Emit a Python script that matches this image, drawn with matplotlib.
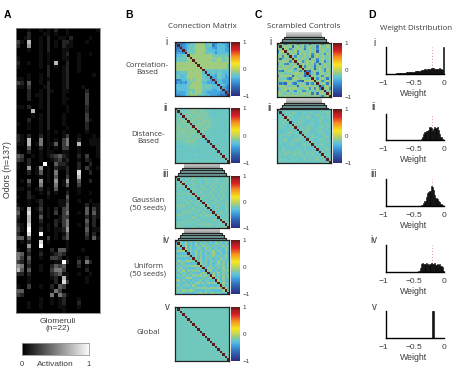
#! /usr/bin/python3
import numpy as np
import matplotlib
matplotlib.use("Agg")
import matplotlib.pyplot as plt
from matplotlib.colors import LinearSegmentedColormap, PowerNorm
from matplotlib.patches import Rectangle

kWidth = 454
kHeight = 373
kTextColor = "#3c3c3c"

# activation per odor (rows) and glomerulus (columns), in ninths
activation_rows = [
  "0001001010200100000001", "0002000110100100000000", "0012001020011020000100",
  "3107001020102210001000", "2006001020102110000000", "0001001020001100000000",
  "0000001010001200100100", "1000001010001100100000", "2001001010700200100000",
  "1000001020101200100000", "0000000020001200100000", "0001001020001200000010",
  "1101001010001200000000", "3204001020001200000000", "1103000120001200010000",
  "0002001021001100002000", "0002011020001000003000", "0002001020001100003000",
  "0000001020001000003000", "1102001020000100002000", "0000700020000100002000",
  "0000101020001000003000", "0002001020001000003100", "1001001020001000002000",
  "0001001020000100002000", "0000001010101000001000", "2102002010001300100010",
  "2107005010103500200111", "1107015011403500700111", "0004002010103300100001",
  "1002001011001100100001", "4300101012342100203001", "3202001001231200102100",
  "1002000900422100200200", "1006016010211200203101", "0002014010500200800200",
  "0000001010400300700000", "0104006010601600400200", "0002005000501400300000",
  "1101012010400100100000", "0002001020100200100100", "1002100010000400000000",
  "0001012000011300100100", "1001002000011400002011", "3107013010203400004031",
  "4008002010303500104041", "2007004010013300002021", "1007002000213500004020",
  "2108001010203500103020", "3109002010112600004011", "2008009000101400003020",
  "4404001030102400002041", "0102008010000100000000", "0006009000000100000000",
  "1003001002044100010000", "5402002001232000000000", "5304001003320100102000",
  "3203000000119200305200", "6502001002434000201000", "7404001003553000002000",
  "2202000002341100100100", "0001000001207100001000", "0001000000208300001000",
  "1003001002043000000000", "4400000001530000000000", "3200000005053100000000",
  "0000001001012000100000", "0001001001012000200000", "0001001000011000100000",
  "0000000000001000000000",
]

# connection matrices: upper triangle only, each character is minus the weight in twentieths
correlation_rows = [
  "ccc88662222644ac6688a", "ca86442222644c86668a", "a864422224668a66688", "a44422224666866688",
  "44422226446a66666", "2222222224444444", "222222222422422", "22222224222442", "2222222222222",
  "222222222224", "22222222224", "6444644464", "664644666", "66844686", "8844688", "866888",
  "66888", "668a", "8ac", "ac", "e",
]
distance_rows = [
  "454434333343445544544", "44343334334445454545", "4334333433445544454", "433433343445454544",
  "34333334344544454", "3343433344454544", "433334344545454", "33343344454544", "3433444544445",
  "434445454544", "44445444544", "4544454544", "545445454", "44544544", "5454454", "445454",
  "54445", "4544", "454", "45", "4",
]
gaussian_rows = [
  "435445344534454354434", "45344354453445345443", "3544534453445345443", "454354453453445344",
  "35445344534453445", "5344534453445344", "445344534453445", "35445344534453", "4534453445345",
  "344534453445", "53445344534", "4453445344", "345344534", "45344534", "5344534", "453445",
  "34453", "4534", "345", "53", "4",
]
uniform_rows = [
  "626353462635346263534", "35264626353646253636", "5263634625363646263", "263653462536364625",
  "63526346352634635", "4625363642563636", "526364352636425", "36263536462536", "6253634625364",
  "253636425363", "36526346352", "6243635264", "426365342", "63526346", "2636352", "536263",
  "26365", "5263", "364", "26", "5",
]
scrambled_corr_rows = [
  "32c4232a3243c2342a324", "4232e3242a3243c23423", "23a42324c3243a23243", "3242a3234242e32342",
  "423c24232a3243a23", "3a243242c3242342", "243243e32a32432", "32a42324c32a42", "423242a3e4232",
  "2a324c324234", "3242e324a32", "ce32423a24", "a42c32432", "3242a324", "2a324c3", "32a423",
  "423c2", "a324", "32a", "43", "2",
]
scrambled_dist_rows = [
  "455445345445544534454", "54453455445345544534", "4534455344554345445", "344554453455443544",
  "45544345544534554", "5443455445534454", "344554435544534", "54453455443545", "4453554435544",
  "534455443554", "44535544355", "5534454435", "445534455", "35544534", "5443554", "445345",
  "54435", "4553", "344", "54", "4",
]
global_weight = -0.2

# weight histograms, 50 bins over -1..0, height as a fraction of the axis
hist_i = [0]*10 + [.01, .02, .02, .03, .03, .04, .04, .05, .05, .06,
                   .06, .07, .07, .08, .09, .08, .10, .11, .10, .12,
                   .12, .14, .13, .15, .17, .16, .19, .17, .20, .22,
                   .24, .22, .20, .19, .17, .20, .22, .18, .14, 1.0]
hist_ii = [0]*31 + [.05, .12, .22, .30, .35, .36, .38, .50, .47, .36,
                    .42, .50, .45, .50, .38, .22, .10, .03, .01]
hist_iii = [0]*31 + [.02, .05, .10, .20, .35, .50, .52, .55, .73, .72,
                     .60, .42, .30, .25, .20, .15, .07, .03, .01]
hist_iv = [0]*29 + [.02, .15, .30, .33, .30, .28, .32, .30, .27, .31, .33,
                    .28, .30, .32, .27, .30, .26, .28, .24, .20, .05]
hist_v = [0]*40 + [1.0, 1.0] + [0]*8
mean_weight = -0.2

weight_ticks = [-1, -0.5, 0]
weight_tick_labels = ["\u22121", "\u22120.5", "0"]
cbar_ticks = [-1, 0, 1]
cbar_tick_labels = ["\u22121", "0", "1"]

jet = LinearSegmentedColormap.from_list("cmyk_jet", [
  (0.00, "#2b2f7f"), (0.14, "#2f5fae"), (0.28, "#3f9fdc"), (0.35, "#5cc0dc"),
  (0.40, "#70c8bc"), (0.45, "#a0cc80"), (0.52, "#cfd84e"), (0.60, "#f6e71e"),
  (0.74, "#f6921e"), (0.86, "#dc2027"), (0.94, "#a81e22"), (1.00, "#5c1a1a")])

fig = plt.figure(figsize=(kWidth/100, kHeight/100), dpi=100)
plt.rcParams["font.family"] = ["Liberation Sans", "DejaVu Sans"]


def PxAxes(x0, y0, x1, y1, **kwargs):
  return fig.add_axes([x0/kWidth, 1 - y1/kHeight, (x1 - x0)/kWidth, (y1 - y0)/kHeight], **kwargs)


overlay = PxAxes(0, 0, kWidth, kHeight)
overlay.set_axis_off()


def Label(x, y, text, size=6, family="Open Sans", **kwargs):
  kwargs.setdefault("ha", "center")
  kwargs.setdefault("va", "center")
  kwargs.setdefault("color", kTextColor)
  overlay.text(x, y, text, fontsize=size, family=family, linespacing=1.15, **kwargs)


def BuildMatrix(rows):
  matrix = np.full((22, 22), 1.0)
  for i, row in enumerate(rows):
    weights = [-int(c, 36)/20 for c in row]
    matrix[i, i + 1:] = weights
    matrix[i + 1:, i] = weights
  return matrix


def DrawMatrix(x0, y0, x1, y1, matrix, bar_x):
  ax = PxAxes(x0, y0, x1, y1)
  ax.imshow(matrix, cmap=jet, vmin=-1, vmax=1, aspect="auto", interpolation="nearest")
  ax.set_xticks([])
  ax.set_yticks([])
  for spine in ax.spines.values():
    spine.set_linewidth(0.9)
    spine.set_color("#222222")
  bar = PxAxes(bar_x, y0, bar_x + 8, y1)
  bar.imshow(np.linspace(1, -1, 200)[:, None], cmap=jet, vmin=-1, vmax=1, aspect="auto",
             extent=[0, 1, -1, 1])
  bar.set_xticks([])
  bar.yaxis.tick_right()
  bar.set_yticks(cbar_ticks, cbar_tick_labels, fontsize=4.5, color=kTextColor)
  bar.tick_params(length=0, pad=2.5)
  for spine in bar.spines.values():
    spine.set_visible(False)


# the stack of seeds drawn behind a matrix
def DrawStack(x0, x1, top):
  overlay.imshow(np.linspace(0.55, 0.85, 20)[::-1][:, None], cmap="gray", vmin=0, vmax=1,
                 extent=[x0 + 9, x1 - 9, top + 6, top], aspect="auto", zorder=1)
  for k, inset in enumerate([7, 5, 3]):
    y = top + 5 + 2.3*k
    overlay.add_patch(Rectangle((x0 + inset, y), x1 - x0 - 2*inset, 3, facecolor="#6f9a98",
                                edgecolor="#222222", linewidth=0.8, zorder=2 + k))


def DrawHist(y0, y1, counts):
  ax = PxAxes(383, y0, 445, y1)
  edges = np.linspace(-1, 0, 51)
  ax.axvline(mean_weight, color="#dc9a9a", linewidth=0.7, linestyle=(0, (1, 2)), zorder=1)
  ax.bar(edges[:-1], counts, width=0.02, align="edge", color="#0a0a0a", edgecolor="#0a0a0a",
         linewidth=0.4, zorder=2)
  ax.set_xlim(-1, 0.016)
  ax.set_ylim(0, 1)
  ax.set_yticks([])
  ax.set_xticks(weight_ticks, weight_tick_labels, fontsize=6, color=kTextColor)
  ax.tick_params(length=0, pad=4.5)
  ax.set_xlabel("Weight", fontsize=6.3, color=kTextColor, labelpad=1.5)
  ax.patch.set_visible(False)
  ax.spines["top"].set_visible(False)
  ax.spines["right"].set_visible(False)
  ax.spines["left"].set_position(("data", -0.95))
  ax.spines["bottom"].set_bounds(-0.95, 0)
  ax.spines["left"].set_linewidth(1.0)
  ax.spines["bottom"].set_linewidth(1.0)


# A
heat = np.array([[int(c)/9 for c in row] for row in activation_rows])
ax_heat = PxAxes(16, 28, 99.5, 313)
ax_heat.imshow(heat, cmap="gray", norm=PowerNorm(1.3, vmin=0, vmax=1), aspect="auto",
               interpolation="nearest")
ax_heat.set_xticks([])
ax_heat.set_yticks([])
for spine in ax_heat.spines.values():
  spine.set_linewidth(0.6)
  spine.set_color("#888888")
ax_gray = PxAxes(22, 343, 89, 355)
ax_gray.imshow(np.linspace(0, 1, 200)[None, :], cmap="gray", vmin=0, vmax=1, aspect="auto")
ax_gray.set_xticks([])
ax_gray.set_yticks([])
for spine in ax_gray.spines.values():
  spine.set_linewidth(0.6)
  spine.set_color("#999999")

# B
DrawMatrix(175, 42, 229, 96, BuildMatrix(correlation_rows), 231)
DrawMatrix(175, 108, 229, 163, BuildMatrix(distance_rows), 231)
DrawMatrix(175, 176, 229, 228, BuildMatrix(gaussian_rows), 231)
DrawMatrix(175, 240, 229, 294, BuildMatrix(uniform_rows), 231)
global_matrix = np.full((22, 22), global_weight)
np.fill_diagonal(global_matrix, 1.0)
DrawMatrix(175, 307, 229, 361, global_matrix, 231)
DrawStack(175, 229, 163)
DrawStack(175, 229, 228)

# C
DrawMatrix(277, 43, 331, 97, BuildMatrix(scrambled_corr_rows), 333)
DrawMatrix(277, 109, 331, 163, BuildMatrix(scrambled_dist_rows), 333)
DrawStack(277, 331, 32)
DrawStack(277, 331, 98)

# D
DrawHist(47, 74, hist_i)
DrawHist(114, 140, hist_ii)
DrawHist(179, 206, hist_iii)
DrawHist(245, 272, hist_iv)
DrawHist(311, 338, hist_v)

overlay.set_xlim(0, kWidth)
overlay.set_ylim(kHeight, 0)

for x, letter in [(7, "A"), (129, "B"), (258, "C"), (372, "D")]:
  Label(x, 15, letter, size=7.5, family="Liberation Sans", fontweight="bold", color="black")

Label(202, 27, "Connection Matrix", size=5.8)
Label(304, 27, "Scrambled Controls", size=5.8)
Label(416, 28, "Weight Distribution", size=5.8)

Label(147, 69, "Correlation-\nBased", size=5.6)
Label(148, 138, "Distance-\nBased", size=5.6)
Label(148, 204, "Gaussian\n(50 seeds)", size=5.6)
Label(148, 270, "Uniform\n(50 seeds)", size=5.6)
Label(148, 332, "Global", size=5.6)

for x, y, text in [(166, 42, "i"), (165, 108, "ii"), (166, 174, "iii"), (166, 240, "iv"), (167, 307, "v"),
                   (270, 42, "i"), (270, 108, "ii"),
                   (374, 43, "i"), (374, 107, "ii"), (374, 174, "iii"), (374, 240, "iv"), (374, 307, "v")]:
  Label(x, y, text, size=7, family="Liberation Sans")

Label(8, 170, "Odors (n=137)", size=6.3, family="Liberation Sans", rotation=90)
Label(58, 325, "Glomeruli\n(n=22)", size=6, family="Liberation Sans")
Label(22, 364, "0", size=5.5, family="Liberation Sans")
Label(55, 364, "Activation", size=6, family="Liberation Sans")
Label(89, 364, "1", size=5.5, family="Liberation Sans")

fig.savefig("out.png", dpi=100)
